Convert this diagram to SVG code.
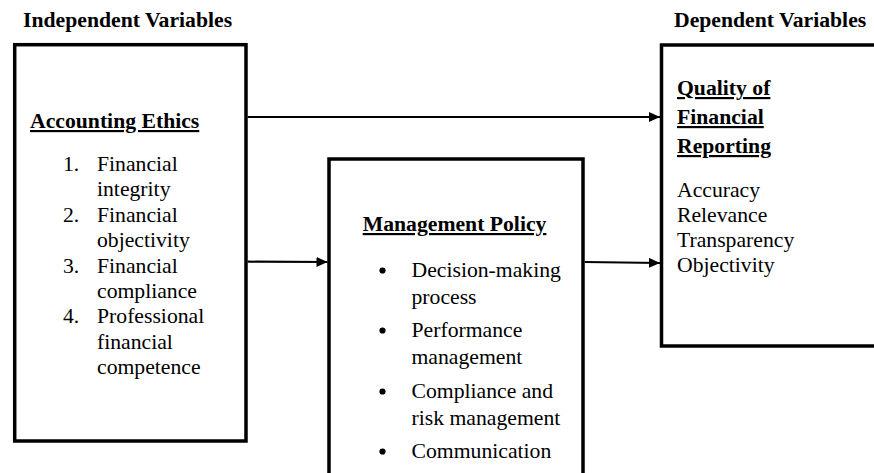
<svg xmlns="http://www.w3.org/2000/svg" width="874" height="473" viewBox="0 0 874 473">
  <style>
    text { font-family: "Liberation Serif", "Times New Roman", serif; font-size: 21.7px; fill: #000; }
    .b { font-weight: bold; }
    .u { text-decoration: underline; }
    .box { fill: #fff; stroke: #000; stroke-width: 3.5; }
    .dot { fill: #000; }
    .link { stroke: #000; stroke-width: 2.2; fill: none; marker-end: url(#arrow); }
  </style>
  <defs>
    <marker id="arrow" markerUnits="userSpaceOnUse" markerWidth="11" markerHeight="10" refX="11" refY="5" orient="auto">
      <path d="M0,0 L11,5 L0,10 Z" fill="#000"/>
    </marker>
  </defs>

  <rect width="874" height="473" fill="#fff"/>

  <!-- column headings -->
  <text class="b" x="23" y="27">Independent Variables</text>
  <text class="b" x="674" y="27">Dependent Variables</text>

  <!-- independent variable: accounting ethics -->
  <g id="accounting-ethics">
    <rect class="box" x="14.7" y="44.7" width="231.3" height="396.3"/>
    <text class="b u" x="30" y="128">Accounting Ethics</text>
    <text x="63" y="171">1.</text><text x="97" y="171">Financial</text>
    <text x="97" y="196.4">integrity</text>
    <text x="63" y="221.8">2.</text><text x="97" y="221.8">Financial</text>
    <text x="97" y="247.2">objectivity</text>
    <text x="63" y="272.6">3.</text><text x="97" y="272.6">Financial</text>
    <text x="97" y="298">compliance</text>
    <text x="63" y="323.4">4.</text><text x="97" y="323.4">Professional</text>
    <text x="97" y="348.8">financial</text>
    <text x="97" y="374.2">competence</text>
  </g>

  <!-- mediating variable: management policy (box runs past the lower edge) -->
  <g id="management-policy">
    <rect class="box" x="329" y="159" width="254" height="340"/>
    <text class="b u" x="362.7" y="231">Management Policy</text>
    <circle class="dot" cx="382.5" cy="270.5" r="3.1"/><text x="411.5" y="276.5">Decision-making</text>
    <text x="411.5" y="303.5">process</text>
    <circle class="dot" cx="382.5" cy="330.5" r="3.1"/><text x="411.5" y="336.5">Performance</text>
    <text x="411.5" y="363.5">management</text>
    <circle class="dot" cx="382.5" cy="391.5" r="3.1"/><text x="411.5" y="397.5">Compliance and</text>
    <text x="411.5" y="424.5">risk management</text>
    <circle class="dot" cx="382.5" cy="451.5" r="3.1"/><text x="411.5" y="457.5">Communication</text>
  </g>

  <!-- dependent variable: quality of financial reporting (box runs past the right edge) -->
  <g id="quality-of-reporting">
    <rect class="box" x="661.5" y="45" width="240" height="301"/>
    <text class="b u" x="677" y="95">Quality of</text>
    <text class="b u" x="677" y="124">Financial</text>
    <text class="b u" x="677" y="153">Reporting</text>
    <text x="677" y="197">Accuracy</text>
    <text x="677" y="222">Relevance</text>
    <text x="677" y="247">Transparency</text>
    <text x="677" y="272">Objectivity</text>
  </g>

  <!-- relationships -->
  <g id="connectors">
    <line class="link" x1="247.7" y1="117" x2="660" y2="117"/>
    <line class="link" x1="247.7" y1="261.7" x2="327.5" y2="262"/>
    <line class="link" x1="584.7" y1="262" x2="660" y2="263"/>
  </g>
</svg>
